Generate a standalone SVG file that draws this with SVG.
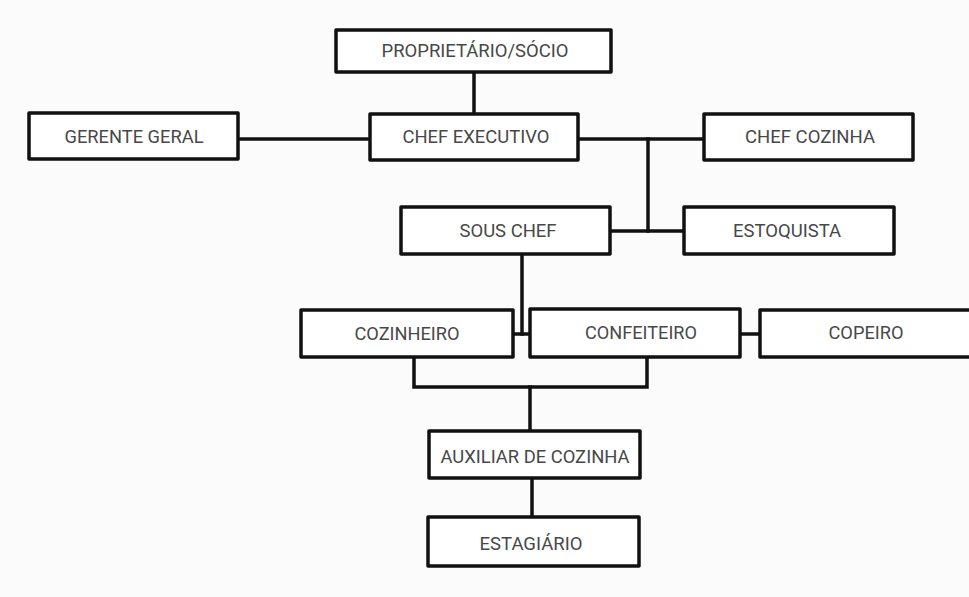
<svg xmlns="http://www.w3.org/2000/svg" width="969" height="597" viewBox="0 0 969 597">
<style>
.bg{fill:#fbfbfb}
.box{fill:#ffffff;stroke:#111;stroke-width:3.5;stroke-linejoin:round}
.lbl{font-family:Roboto,"Liberation Sans",sans-serif;font-size:18px;fill:#484848;text-anchor:middle}
.ln{fill:none;stroke:#111;stroke-width:3.5;stroke-linecap:square}
</style>
<rect class="bg" x="0" y="0" width="969" height="597"/>
<g id="connectors">
<path class="ln" d="M474,72 V114"/>
<path class="ln" d="M238,139 H370"/>
<path class="ln" d="M578,139 H704"/>
<path class="ln" d="M648,139 V231"/>
<path class="ln" d="M610,231 H684"/>
<path class="ln" d="M522,254 V334"/>
<path class="ln" d="M513,334 H530"/>
<path class="ln" d="M740,334 H760"/>
<path class="ln" d="M414,357 V387 H647 V357"/>
<path class="ln" d="M530,387 V431"/>
<path class="ln" d="M532,478 V517"/>
</g>
<g id="proprietario"><rect class="box" x="336" y="30" width="275" height="42"/><text class="lbl" x="475" y="57" textLength="187" lengthAdjust="spacingAndGlyphs">PROPRIETÁRIO/SÓCIO</text></g>
<g id="gerente-geral"><rect class="box" x="29" y="113" width="209" height="46"/><text class="lbl" x="134" y="143" textLength="139" lengthAdjust="spacingAndGlyphs">GERENTE GERAL</text></g>
<g id="chef-executivo"><rect class="box" x="370" y="114" width="208" height="46"/><text class="lbl" x="476" y="143" textLength="147" lengthAdjust="spacingAndGlyphs">CHEF EXECUTIVO</text></g>
<g id="chef-cozinha"><rect class="box" x="704" y="114" width="209" height="46"/><text class="lbl" x="810" y="143" textLength="130" lengthAdjust="spacingAndGlyphs">CHEF COZINHA</text></g>
<g id="sous-chef"><rect class="box" x="401" y="207" width="209" height="47"/><text class="lbl" x="508" y="237" textLength="97" lengthAdjust="spacingAndGlyphs">SOUS CHEF</text></g>
<g id="estoquista"><rect class="box" x="684" y="207" width="210" height="47"/><text class="lbl" x="787" y="237" textLength="108" lengthAdjust="spacingAndGlyphs">ESTOQUISTA</text></g>
<g id="cozinheiro"><rect class="box" x="301" y="310" width="212" height="47"/><text class="lbl" x="407" y="340" textLength="105" lengthAdjust="spacingAndGlyphs">COZINHEIRO</text></g>
<g id="confeiteiro"><rect class="box" x="530" y="309" width="210" height="48"/><text class="lbl" x="641" y="339" textLength="112" lengthAdjust="spacingAndGlyphs">CONFEITEIRO</text></g>
<g id="copeiro"><rect class="box" x="760" y="310" width="212" height="47"/><text class="lbl" x="866" y="339" textLength="75" lengthAdjust="spacingAndGlyphs">COPEIRO</text></g>
<g id="auxiliar"><rect class="box" x="429" y="431" width="211" height="47"/><text class="lbl" x="535" y="463" textLength="189" lengthAdjust="spacingAndGlyphs">AUXILIAR DE COZINHA</text></g>
<g id="estagiario"><rect class="box" x="428" y="517" width="211" height="49"/><text class="lbl" x="531" y="550" textLength="103" lengthAdjust="spacingAndGlyphs">ESTAGIÁRIO</text></g>
</svg>
